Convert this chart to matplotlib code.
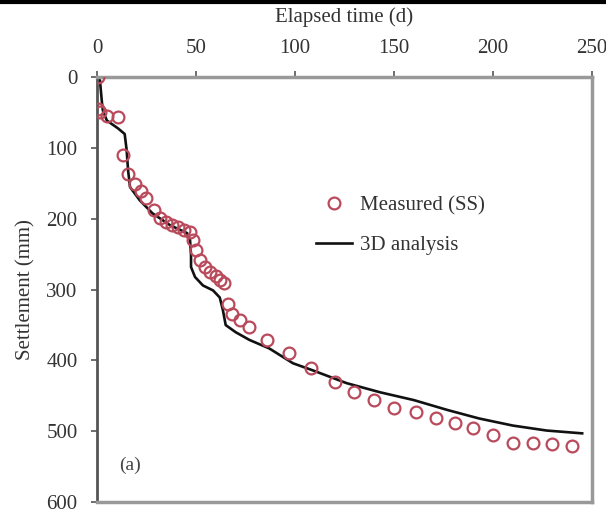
import numpy as np
import matplotlib
matplotlib.use('Agg')
import matplotlib.pyplot as plt
from matplotlib.lines import Line2D

plt.rcParams['font.family'] = ['Liberation Serif', 'DejaVu Serif']

# measured settlement (SS)
meas_day = [0.5, 0.5, 1.5, 5, 10.6, 13, 15.7, 19, 22, 25, 29, 32, 35, 38, 41, 44, 47,
            48.5, 50, 52, 54.5, 57, 60, 62, 64, 66, 68, 72, 77, 86, 97, 108, 120,
            130, 140, 150, 161, 171, 181, 190, 200, 210, 220, 230, 240]
meas_mm = [0, 44, 49, 54, 56, 110, 136, 150, 160, 171, 188, 199, 205, 209, 212, 215, 218,
           230, 244, 258, 268, 275, 281, 287, 290, 320, 335, 343, 353, 371, 390, 410, 431,
           445, 456, 467, 473, 482, 489, 496, 506, 517, 517, 518, 521]

# 3D analysis
ana_day = [0, 1.5, 2.5, 3, 5, 10.6, 14, 15, 15.7, 16.7, 21.7, 28, 37, 45.5, 47, 47.5,
           47.5, 49.5, 53.5, 58.6, 62, 63.6, 65, 70, 77, 87, 99, 109, 126, 143, 160,
           177, 193, 210, 227, 245]
ana_mm = [0, 4, 35, 47, 61, 72, 80, 103, 131, 155, 174, 192, 209, 220, 230, 251,
          268, 282, 294, 301, 311, 329, 350, 360, 371, 383, 404, 414, 432, 445, 456,
          470, 482, 492, 499, 503]

fig = plt.figure(figsize=(6.06, 5.11), dpi=100)
ax = fig.add_axes([0.160, 0.0176, 0.817, 0.831])

ax.plot(meas_day, meas_mm, 'o', ms=8.5, mfc='none', mec='#b84a5c', mew=1.6,
        label='Measured (SS)', zorder=3)
ax.plot(ana_day, ana_mm, '-', color='#111111', lw=1.9, label='3D analysis', zorder=2)

ax.set_xlim(0, 250)
ax.set_ylim(600, 0)
ax.set_xticks([0, 50, 100, 150, 200, 250])
ax.set_yticks([0, 100, 200, 300, 400, 500, 600])
ax.xaxis.tick_top()
ax.xaxis.set_label_position('top')
ax.set_xlabel('Elapsed time (d)', fontsize=15, color='#333333', labelpad=12)
ax.set_ylabel('Settlement (mm)', fontsize=15, color='#333333', labelpad=8)
ax.tick_params(axis='both', labelsize=15, labelcolor='#333333', color='#555555',
               direction='out', length=4, width=1.2)
ax.tick_params(axis='x', pad=10)
ax.tick_params(axis='y', pad=10)

for side in ['top', 'right', 'bottom']:
    ax.spines[side].set_color('#999999')
    ax.spines[side].set_linewidth(2.5)
ax.spines['left'].set_color('#555555')
ax.spines['left'].set_linewidth(2.0)

leg = ax.legend(loc='upper left', bbox_to_anchor=(0.405, 0.765), frameon=False,
                fontsize=15, handlelength=1.7, handletextpad=0.4, labelspacing=0.95)
for t in leg.get_texts():
    t.set_color('#333333')

ax.text(0.045, 0.075, '(a)', transform=ax.transAxes, fontsize=14, color='#444444')

fig.add_artist(Line2D([0, 1], [0.997, 0.997], color='black', lw=3,
                      transform=fig.transFigure))

fig.savefig('out.png', dpi=100)
